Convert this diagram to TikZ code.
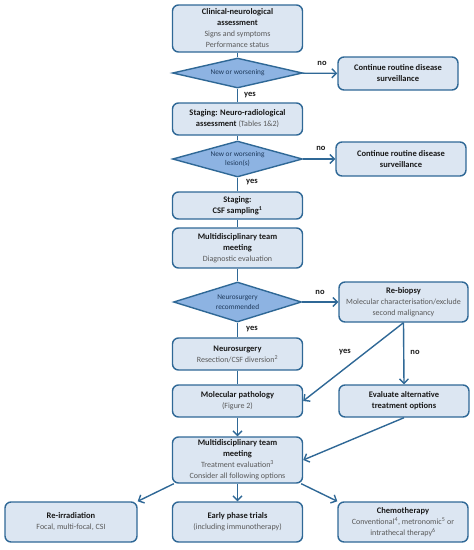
\documentclass[tikz,border=0pt]{standalone}
\usepackage{fontspec}
\setmainfont{Carlito}
\usetikzlibrary{shapes.geometric,arrows.meta}
\definecolor{boxfill}{HTML}{DCE6F2}
\definecolor{decfill}{HTML}{8DB3E2}
\definecolor{linec}{HTML}{2F6896}
\definecolor{subc}{HTML}{595959}
\definecolor{dectext}{HTML}{1F3A5C}
\newcommand{\subtxt}[1]{{\color{subc}\fontsize{8}{10.5}\selectfont #1}}
\tikzset{
	box/.style={draw=linec,fill=boxfill,line width=1.4pt,rounded corners=6pt,align=center,
		minimum width=130pt,inner sep=1pt,font=\fontsize{8.5}{11}\selectfont\color{black!90}},
	dec/.style={diamond,draw=linec,fill=decfill,line width=1.4pt,aspect=4,inner sep=0pt,
		minimum width=130pt,align=center,font=\fontsize{7.3}{9.5}\selectfont\color{dectext}},
	lab/.style={font=\bfseries\fontsize{8.5}{10}\selectfont\color{black!90}},
	flow/.style={draw=linec,line width=1.4pt},
	arr/.style={flow,-{Straight Barb[length=4.5pt,width=9pt]}}
}

\begin{document}
\begin{tikzpicture}[x=1pt,y=-1pt]
	\useasboundingbox (0,0) rectangle (474,550);
	% main column
	\node[box,minimum height=47pt] (clin) at (237.5,28.5) {\textbf{Clinical-neurological}\\\textbf{assessment}\\\subtxt{Signs and symptoms}\\\subtxt{Performance status}};
	\node[dec,minimum height=30pt] (new1) at (237.5,73) {New or worsening};
	\node[box,minimum width=120pt,minimum height=33pt] (cont1) at (398,73.5) {\textbf{Continue routine disease}\\\textbf{surveillance}};
	\node[box,minimum height=32pt] (radio) at (237.5,119) {\textbf{Staging: Neuro-radiological}\\\textbf{assessment} \subtxt{(Tables 1\&2)}};
	\node[dec,minimum height=36pt] (new2) at (237.5,159) {New or worsening\\lesion(s)};
	\node[box,minimum height=34pt] (cont2) at (401,159) {\textbf{Continue routine disease}\\\textbf{surveillance}};
	\node[box,minimum height=27pt] (csf) at (237.5,205.5) {\textbf{Staging:}\\\textbf{CSF sampling\textsuperscript{1}}};
	\node[box,minimum height=40pt] (mdt1) at (237.5,248) {\textbf{Multidisciplinary team}\\\textbf{meeting}\\\subtxt{Diagnostic evaluation}};
	\node[dec,minimum height=40pt,minimum width=128pt] (nsrec) at (237.5,302) {Neurosurgery\\recommended};
	\node[box,minimum width=129pt,minimum height=40pt] (rebiop) at (403.5,302) {\textbf{Re-biopsy}\\\subtxt{Molecular characterisation/exclude}\\\subtxt{second malignancy}};
	\node[box,minimum height=32pt] (nsurg) at (237.5,354) {\textbf{Neurosurgery}\\\subtxt{Resection/CSF diversion\textsuperscript{2}}};
	\node[box,minimum height=32pt] (molpath) at (237.5,401) {\textbf{Molecular pathology}\\\subtxt{(Figure 2)}};
	\node[box,minimum height=32pt] (evalalt) at (404,401) {\textbf{Evaluate alternative}\\\textbf{treatment options}};
	\node[box,minimum height=46pt] (mdt2) at (237.5,460) {\textbf{Multidisciplinary team}\\\textbf{meeting}\\\subtxt{Treatment evaluation\textsuperscript{3}}\\\subtxt{Consider all following options}};
	% treatment options
	\node[box,minimum width=132pt,minimum height=40pt] (reirr) at (71,522) {\textbf{Re-irradiation}\\\subtxt{Focal, multi-focal, CSI}};
	\node[box,minimum height=40pt] (trials) at (237.5,522) {\textbf{Early phase trials}\\\subtxt{(including immunotherapy)}};
	\node[box,minimum height=40pt] (chemo) at (403,522) {\textbf{Chemotherapy}\\\subtxt{Conventional\textsuperscript{4}, metronomic\textsuperscript{5} or}\\\subtxt{intrathecal therapy\textsuperscript{6}}};
	% connectors
	\draw[flow] (clin) -- (new1);
	\draw[flow] (new1) -- (radio);
	\draw[arr] (new1) -- (cont1);
	\draw[flow] (radio) -- (new2);
	\draw[flow] (new2) -- (csf);
	\draw[arr] (new2) -- (cont2);
	\draw[flow] (csf) -- (mdt1);
	\draw[flow] (mdt1) -- (nsrec);
	\draw[arr] (nsrec) -- (rebiop);
	\draw[flow] (nsrec) -- (nsurg);
	\draw[flow] (nsurg) -- (molpath);
	\draw[arr] (rebiop.south) -- (molpath.east);
	\draw[arr] (rebiop.south) -- (evalalt.north);
	\draw[arr] (molpath) -- (mdt2);
	\draw[arr] (evalalt.south) -- (mdt2.east);
	\draw[arr] ([xshift=2pt]mdt2.south west) -- (reirr.north east);
	\draw[arr] (mdt2) -- (trials);
	\draw[arr] ([xshift=-2pt]mdt2.south east) -- (chemo.north west);
	% labels
	\node[lab] (no1) at (322,63) {no};
	\node[lab] (yes1) at (250,95) {yes};
	\node[lab] (no2) at (321,148) {no};
	\node[lab] (yes2) at (252,182) {yes};
	\node[lab] (no3) at (320,292) {no};
	\node[lab] (yes3) at (252,329) {yes};
	\node[lab] (yes4) at (345,352) {yes};
	\node[lab] (no4) at (415,352) {no};
\end{tikzpicture}
\end{document}
